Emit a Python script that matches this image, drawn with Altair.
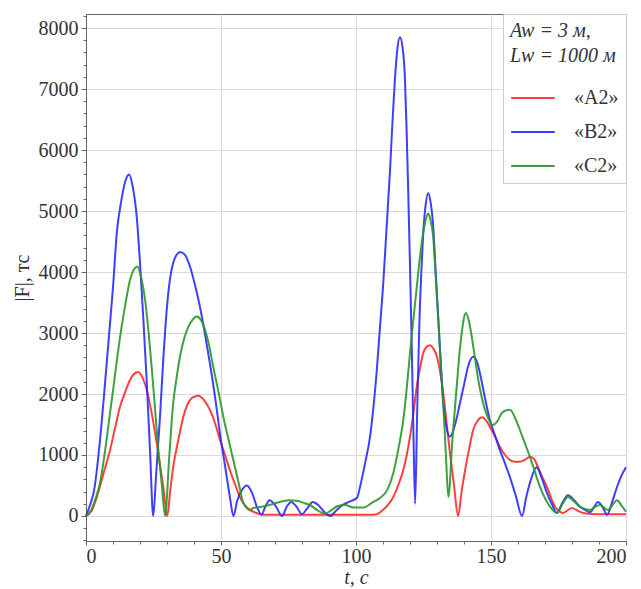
import altair as alt
import pandas as pd

# ---- data ----
series_names = ["«A2»", "«B2»", "«C2»"]
series_colors = ["#ff2a2a", "#2a2aff", "#2a962a"]

t_a2 = [0, 2, 4, 6.5, 8.9, 10.8, 12.6, 14.5, 16.3, 17.8, 19.4, 21, 22.5, 24, 25.6, 27.1, 28.6, 30.1,
        31.2, 32.3, 34.2, 36, 37.5, 39.1, 40.3, 41.6, 43.7, 45.9, 47.8, 49.6, 51.5, 53.3, 55.2, 57,
        58.8, 60.7, 63, 65.6, 70, 80, 90, 100, 105, 107.7, 110, 112, 113.8, 115.6, 117.5, 118.8,
        120, 121.3, 122.5, 123.7, 124.9, 126.1, 127.4, 128.7, 130, 131.2, 132.3, 133.5, 134.8,
        136.3, 137.8, 139.1, 140.4, 141.9, 143.4, 145, 146.7, 148.1, 149.6, 151.5, 153.3, 155.2,
        157, 158.8, 160.7, 162.5, 164.4, 166, 167.4, 169, 170.7, 172.2, 173.7, 175.2, 176.7, 178.3,
        180, 182, 184, 190, 200]
f_a2 = [0, 80, 310, 700, 1080, 1450, 1790, 2030, 2230, 2330, 2360, 2260, 2070, 1760, 1360, 930, 480, 0,
        420, 800, 1250, 1620, 1820, 1930, 1960, 1970, 1900, 1740, 1520, 1250, 1000, 750, 520, 310,
        180, 100, 50, 20, 20, 20, 20, 20, 20, 30, 100, 190, 310, 500, 750, 1000,
        1300, 1700, 2120, 2420, 2670, 2770, 2800, 2740, 2610, 2350, 2020, 1550, 1030,
        500, 0, 400, 750, 1100, 1410, 1560, 1620, 1570, 1460, 1300, 1130, 1000,
        920, 890, 890, 920, 970, 930, 800, 640, 480, 300, 150, 80, 50, 90,
        130, 90, 50, 30, 30]

t_b2 = [0, 1.5, 3, 5.2, 7, 8.9, 10, 11.4, 13, 14.5, 15.9, 17.3, 18.8, 20, 21.2, 22.5, 23.7, 24.9,
        26, 27.4, 28.6, 29.9, 31, 32.3, 33.5, 34.8, 36.5, 38.5, 40.3, 42.2, 44, 45.9, 47.8, 49.6,
        51.5, 53.3, 54.6, 56, 57.8, 59.6, 61.5, 63.3, 65, 66.5, 68, 70.3, 72.6, 74.3, 76, 78, 80,
        82, 84, 86, 88.2, 90.4, 92.7, 95, 97.8, 100.4, 101.5, 103.3, 105.2, 106.5, 107.7, 108.8,
        110, 111.3, 112.6, 113.5, 114.4, 115.3, 116.3, 117.2, 118.1, 118.7, 119.3, 120, 120.7,
        121.3, 121.9, 122.7, 123.5, 124.2, 124.9, 125.8, 126.7, 127.6, 128.6, 129.5, 130.5, 131.4,
        132.3, 133.5, 134.8, 136.7, 138.5, 140, 141.5, 143.4, 144.7, 145.9, 147.7, 149.6, 151.5,
        153.3, 155.2, 157, 159.2, 161.5, 163, 164.4, 166.9, 168.8, 170.7, 172.5, 174.4, 176.5,
        178.5, 180.8, 183, 184.8, 186.7, 188.2, 189.6, 191.3, 193, 194.8, 196.7, 198.2, 200]
f_b2 = [0, 180, 420, 1250, 2150, 3160, 3750, 4640, 5150, 5480, 5600, 5400, 4900, 4150, 3260, 2200, 1080, 0,
        700, 1620, 2550, 3380, 3850, 4150, 4280, 4330, 4290, 4090, 3800, 3430, 3000, 2500, 1950, 1360,
        820, 310, 0, 250, 430, 500, 380, 150, 20, 160, 260, 160, 0, 150, 230, 150, 30,
        130, 230, 180, 70, 0, 90, 180, 240, 300, 480, 850, 1300, 1800, 2390, 3050,
        3750, 4700, 5670, 6450, 7150, 7650, 7850, 7700, 7200, 6400, 5400, 4100, 2670,
        1300, 200, 1800, 3210, 4000, 4640, 5100, 5290, 5150, 4740, 4000, 3210, 2500,
        1850, 1450, 1300, 1500, 1850, 2150, 2450, 2610, 2540, 2340, 1950, 1570, 1320,
        1080, 860, 640, 330, 0, 300, 540, 800, 620, 380, 200, 50, 220,
        340, 260, 150, 100, 60, 150, 230, 150, 20, 220, 480, 650, 800]

t_c2 = [0, 2, 3.5, 5.2, 7, 8.9, 10.8, 12.6, 14.5, 16.3, 17.7, 19, 20.5, 21.9, 23.1, 24.3, 25.5, 26.8,
        28, 29.3, 30.8, 32.3, 33.5, 34.8, 36.3, 37.9, 39.5, 41, 42.5, 44.1, 45.6, 47.1, 49, 50.9,
        52.8, 54.6, 56.5, 58.3, 60.7, 62, 65, 68, 71, 75, 78, 81, 83, 85.5, 88.5, 91, 93, 96, 99,
        103, 106, 109, 111.5, 113.8, 115.7, 117.5, 118.8, 120, 121.2, 122.5, 123.7, 124.9, 125.8,
        126.7, 127.6, 128.6, 129.5, 130.5, 131.4, 132.3, 133.3, 134.2, 135.7, 137.3, 138.3, 139.3,
        140, 140.7, 141.8, 142.9, 144.1, 145.3, 146.5, 147.8, 149.2, 150.7, 152.3, 154, 155.5, 157,
        158.8, 160.7, 162.5, 164.4, 166.3, 168.1, 170, 171.9, 174.4, 176.5, 178.5, 181, 183, 186.7,
        188.5, 190.4, 193.3, 195, 196.7, 198.2, 200]
f_c2 = [0, 100, 280, 540, 1050, 1690, 2330, 2930, 3450, 3870, 4040, 4090, 3900, 3540, 3050, 2450, 1800, 1080,
        550, 0, 950, 1850, 2250, 2610, 2900, 3100, 3220, 3270, 3220, 3050, 2800, 2450, 2050, 1620,
        1250, 910, 550, 210, 100, 130, 150, 180, 220, 260, 250, 210, 180, 100, 40, 100, 160, 180, 140,
        140, 220, 300, 420, 700, 1100, 1570, 2100, 2670, 3200, 3750, 4250, 4640, 4850,
        4960, 4850, 4570, 3950, 3210, 2500, 1850, 1000, 310, 1250, 2120, 2650, 3050,
        3250, 3330, 3200, 2930, 2580, 2230, 1960, 1740, 1580, 1490, 1550, 1690, 1730, 1740,
        1620, 1410, 1200, 970, 720, 480, 290, 150, 50, 200, 310, 230, 150, 100,
        150, 180, 100, 180, 260, 180, 70]

x_major = [0, 50, 100, 150, 200]
x_minor = list(range(0, 201, 10))
y_major = list(range(0, 8001, 1000))
y_minor = list(range(-400, 8201, 200))

rows = []
for name, ts, fs in zip(series_names, [t_a2, t_b2, t_c2], [f_a2, f_b2, f_c2]):
    for t, f in zip(ts, fs):
        rows.append({"t": t, "F": f, "series": name})
df = pd.DataFrame(rows)

FONT = "Liberation Serif"
x_scale = alt.Scale(domain=[0, 200], nice=False, zero=False)
y_scale = alt.Scale(domain=[-410, 8230], nice=False, zero=False)

lines = alt.Chart(df).mark_line(strokeWidth=2, opacity=0.9, interpolate="monotone").encode(
    x=alt.X("t:Q", scale=x_scale, title="t, с",
            axis=alt.Axis(values=x_major, format="d", orient="bottom", grid=True,
                          gridColor="#dadada", tickSize=4, labelPadding=1,
                          titlePadding=1, titleFontStyle="italic")),
    y=alt.Y("F:Q", scale=y_scale, title="|F|, тс",
            axis=alt.Axis(values=y_major, format="d", orient="left", grid=True,
                          gridColor="#dadada", tickSize=5, labelPadding=3,
                          titlePadding=6)),
    color=alt.Color("series:N",
                    scale=alt.Scale(domain=series_names, range=series_colors),
                    sort=series_names,
                    legend=alt.Legend(title=["Aw = 3 м,", "Lw = 1000 м"],
                                      orient="top-right", offset=0,
                                      symbolType="stroke", symbolSize=1900,
                                      symbolStrokeWidth=2, labelOffset=18,
                                      padding=7, rowPadding=1,
                                      fillColor="rgba(255,255,255,0.85)",
                                      strokeColor="#cccccc",
                                      titleLineHeight=25, titlePadding=9)),
    detail="series:N",
)

minor = alt.Chart(df).mark_line(opacity=0).encode(
    x=alt.X("t:Q", scale=x_scale, title=None,
            axis=alt.Axis(values=x_minor, labels=False, grid=False, domain=False,
                          orient="bottom", tickSize=3, title=None)),
    y=alt.Y("F:Q", scale=y_scale, title=None,
            axis=alt.Axis(values=y_minor, labels=False, grid=False, domain=False,
                          orient="left", tickSize=3, title=None)),
    detail="series:N",
)

chart = alt.layer(lines, minor).resolve_axis(x="independent", y="independent").properties(
    width=540, height=527,
    autosize=alt.AutoSizeParams(type="none"),
    padding={"left": 78, "top": 6, "right": 7, "bottom": 46},
).configure_view(stroke="#666666", strokeWidth=1).configure_axis(
    labelFont=FONT, titleFont=FONT, labelFontSize=20, titleFontSize=20,
    labelColor="#333333", titleColor="#333333", titleFontWeight="normal",
    domainColor="#666666", tickColor="#666666",
).configure_legend(
    labelFont=FONT, titleFont=FONT, labelFontSize=20, titleFontSize=20,
    labelColor="#333333", titleColor="#333333", titleFontWeight="normal",
    titleFontStyle="italic",
)

chart.save("out.html", embed_options={"renderer": "svg", "actions": False})
